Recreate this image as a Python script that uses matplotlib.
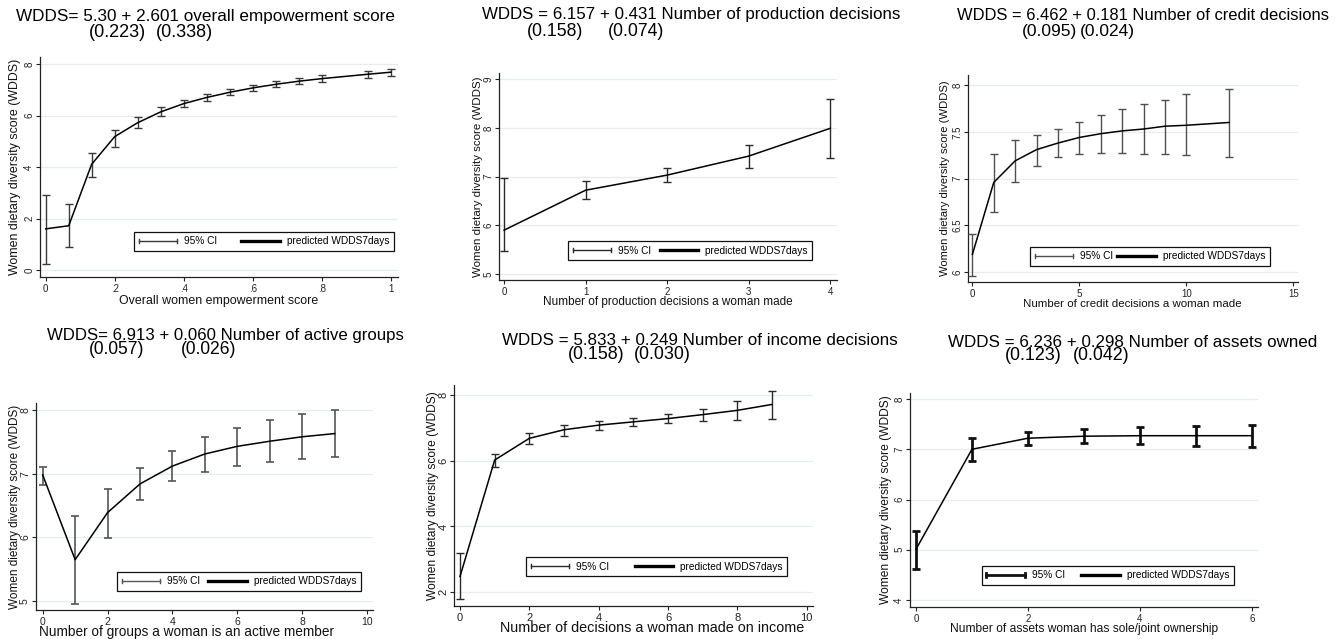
import matplotlib
matplotlib.use("Agg")
import matplotlib.pyplot as plt
from matplotlib.lines import Line2D
from matplotlib.legend_handler import HandlerBase
import numpy as np

plt.rcParams['font.family'] = ['Liberation Sans', 'DejaVu Sans']

W, H = 1343, 639

# ---------------- data ----------------
p1_x = [0, 0.0667, 0.1333, 0.2, 0.2667, 0.3333, 0.4, 0.4667, 0.5333, 0.6, 0.6667, 0.7333, 0.8, 0.9333, 1.0]
p1_y = [1.61, 1.73, 4.12, 5.19, 5.73, 6.15, 6.47, 6.71, 6.91, 7.08, 7.22, 7.34, 7.44, 7.61, 7.69]
p1_lo = [0.25, 0.92, 3.62, 4.79, 5.51, 5.99, 6.34, 6.59, 6.80, 6.96, 7.11, 7.24, 7.31, 7.46, 7.53]
p1_hi = [2.94, 2.56, 4.56, 5.45, 5.97, 6.33, 6.61, 6.83, 7.03, 7.18, 7.33, 7.46, 7.57, 7.75, 7.83]
p1_xticks = [0, 0.2, 0.4, 0.6, 0.8, 1.0]
p1_xticklabels = ["0", ".2", ".4", ".6", ".8", "1"]
p1_yticks = [0, 2, 4, 6, 8]
p1_yticklabels = ["0", "2", "4", "6", "8"]

p2_x = [0, 1, 2, 3, 4]
p2_y = [5.90, 6.72, 7.03, 7.42, 7.99]
p2_lo = [5.47, 6.53, 6.88, 7.18, 7.38]
p2_hi = [6.98, 6.91, 7.18, 7.64, 8.60]
p2_xticks = [0, 1, 2, 3, 4]
p2_xticklabels = ["0", "1", "2", "3", "4"]
p2_yticks = [5, 6, 7, 8, 9]
p2_yticklabels = ["5", "6", "7", "8", "9"]

p3_x = [0, 1, 2, 3, 4, 5, 6, 7, 8, 9, 10, 12]
p3_y = [6.19, 6.96, 7.19, 7.31, 7.38, 7.44, 7.48, 7.51, 7.53, 7.56, 7.57, 7.60]
p3_lo = [5.96, 6.64, 6.96, 7.14, 7.23, 7.26, 7.27, 7.27, 7.26, 7.26, 7.25, 7.23]
p3_hi = [6.41, 7.26, 7.41, 7.47, 7.53, 7.60, 7.68, 7.74, 7.80, 7.84, 7.90, 7.96]
p3_xticks = [0, 5, 10, 15]
p3_xticklabels = ["0", "5", "10", "15"]
p3_yticks = [6, 6.5, 7, 7.5, 8]
p3_yticklabels = ["6", "6.5", "7", "7.5", "8"]

p4_x = [0, 1, 2, 3, 4, 5, 6, 7, 8, 9]
p4_y = [6.98, 5.65, 6.39, 6.84, 7.12, 7.31, 7.43, 7.51, 7.58, 7.63]
p4_lo = [6.82, 4.95, 5.99, 6.58, 6.88, 7.03, 7.12, 7.18, 7.23, 7.26]
p4_hi = [7.11, 6.34, 6.76, 7.09, 7.36, 7.57, 7.72, 7.85, 7.94, 8.00]
p4_xticks = [0, 2, 4, 6, 8, 10]
p4_xticklabels = ["0", "2", "4", "6", "8", "10"]
p4_yticks = [5, 6, 7, 8]
p4_yticklabels = ["5", "6", "7", "8"]

p5_x = [0, 1, 2, 3, 4, 5, 6, 7, 8, 9]
p5_y = [2.48, 6.02, 6.68, 6.94, 7.08, 7.18, 7.28, 7.40, 7.53, 7.71]
p5_lo = [1.80, 5.82, 6.51, 6.76, 6.94, 7.06, 7.15, 7.21, 7.24, 7.26]
p5_hi = [3.18, 6.20, 6.84, 7.09, 7.21, 7.29, 7.41, 7.57, 7.81, 8.13]
p5_xticks = [0, 2, 4, 6, 8, 10]
p5_xticklabels = ["0", "2", "4", "6", "8", "10"]
p5_yticks = [2, 4, 6, 8]
p5_yticklabels = ["2", "4", "6", "8"]

p6_x = [0, 1, 2, 3, 4, 5, 6]
p6_y = [5.01, 7.00, 7.22, 7.26, 7.27, 7.27, 7.27]
p6_lo = [4.62, 6.77, 7.08, 7.12, 7.10, 7.07, 7.05]
p6_hi = [5.38, 7.23, 7.35, 7.40, 7.44, 7.46, 7.48]
p6_xticks = [0, 2, 4, 6]
p6_xticklabels = ["0", "2", "4", "6"]
p6_yticks = [4, 5, 6, 7, 8]
p6_yticklabels = ["4", "5", "6", "7", "8"]

titles = ["WDDS= 5.30 + 2.601 overall empowerment score",
          "WDDS = 6.157 + 0.431 Number of production decisions",
          "WDDS = 6.462 + 0.181 Number of credit decisions",
          "WDDS= 6.913 + 0.060 Number of active groups",
          "WDDS = 5.833 + 0.249 Number of income decisions",
          "WDDS = 6.236 + 0.298 Number of assets owned"]
titles_se_a = ["(0.223)", "(0.158)", "(0.095)", "(0.057)", "(0.158)", "(0.123)"]
titles_se_b = ["(0.338)", "(0.074)", "(0.024)", "(0.026)", "(0.030)", "(0.042)"]
xlabels = ["Overall women empowerment score",
           "Number of production decisions a woman made",
           "Number of credit decisions a woman made",
           "Number of groups a woman is an active member",
           "Number of decisions a woman made on income",
           "Number of assets woman has sole/joint ownership"]
ylabel = "Women dietary diversity score (WDDS)"
legend_labels = ["95% CI", "predicted WDDS7days"]

# ---------------- layout (pixels) ----------------
panels = [
    dict(x=p1_x, y=p1_y, lo=p1_lo, hi=p1_hi, xt=p1_xticks, xtl=p1_xticklabels, yt=p1_yticks, ytl=p1_yticklabels,
         box=(40, 57, 398, 277.3), xlim=(-0.0165, 1.021), ylim=(-0.27, 8.28),
         t1=(16, 20.5, 394), t2=(89, 213, 37),
         xl=(219, 300.7, 199), yl=(15, 216), leg=(134, 231.7, 394, 251),
         ecol='#3a3a3a', elw=1.0, tfs=7),
    dict(x=p2_x, y=p2_y, lo=p2_lo, hi=p2_hi, xt=p2_xticks, xtl=p2_xticklabels, yt=p2_yticks, ytl=p2_yticklabels,
         box=(499.3, 73.3, 836.7, 280), xlim=(-0.058, 4.08), ylim=(4.877, 9.12),
         t1=(482, 19.5, 898), t2=(527, 664, 36),
         xl=(667.5, 301.7, 248), yl=(478, 200), leg=(568.3, 241.7, 812.3, 260),
         ecol='#2a2a2a', elw=1.0, tfs=7),
    dict(x=p3_x, y=p3_y, lo=p3_lo, hi=p3_hi, xt=p3_xticks, xtl=p3_xticklabels, yt=p3_yticks, ytl=p3_yticklabels,
         box=(968.3, 75, 1298, 282), xlim=(-0.19, 15.22), ylim=(5.896, 8.107),
         t1=(957, 19.5, 1328), t2=(1022, 1135, 36),
         xl=(1132.5, 304, 218), yl=(945, 197), leg=(1030, 246.7, 1270, 266),
         ecol='#505050', elw=1.0, tfs=7),
    dict(x=p4_x, y=p4_y, lo=p4_lo, hi=p4_hi, xt=p4_xticks, xtl=p4_xticklabels, yt=p4_yticks, ytl=p4_yticklabels,
         box=(35.7, 403, 373, 610), xlim=(-0.216, 10.18), ylim=(4.86, 8.11),
         t1=(47, 340, 402), t2=(89, 236, 354),
         xl=(186.7, 632.3, 293), yl=(15, 205), leg=(117.3, 571.7, 360.7, 590.7),
         ecol='#555555', elw=1.2, tfs=7.5),
    dict(x=p5_x, y=p5_y, lo=p5_lo, hi=p5_hi, xt=p5_xticks, xtl=p5_xticklabels, yt=p5_yticks, ytl=p5_yticklabels,
         box=(454, 385, 813, 606), xlim=(-0.173, 10.18), ylim=(1.584, 8.30),
         t1=(502, 345, 897), t2=(568, 691, 359),
         xl=(651.7, 628, 303), yl=(433, 210), leg=(526, 557.3, 787.3, 576),
         ecol='#2a2a2a', elw=1.0, tfs=8),
    dict(x=p6_x, y=p6_y, lo=p6_lo, hi=p6_hi, xt=p6_xticks, xtl=p6_xticklabels, yt=p6_yticks, ytl=p6_yticklabels,
         box=(910, 393, 1258, 606.7), xlim=(-0.107, 6.11), ylim=(3.867, 8.12),
         t1=(948, 346.7, 1317), t2=(1005, 1130, 360.5),
         xl=(1083.8, 629.3, 269), yl=(886, 210), leg=(981.7, 566, 1234, 585),
         ecol='#111111', elw=2.0, tfs=7),
]

fig = plt.figure(figsize=(W / 100, H / 100), dpi=100)
fig.patch.set_facecolor('white')
renderer = fig.canvas.get_renderer()


def fx(px):
    return px / W


def fy(py):
    return 1 - py / H


def fit_width(t, target):
    bb = t.get_window_extent(renderer)
    t.set_fontsize(t.get_fontsize() * target / bb.width)


def fit_height(t, target):
    bb = t.get_window_extent(renderer)
    t.set_fontsize(t.get_fontsize() * target / bb.height)


class HandlerCI(HandlerBase):
    def __init__(self, color, lw):
        super().__init__()
        self.color = color
        self.lw = lw

    def create_artists(self, legend, orig_handle, xdescent, ydescent, width, height, fontsize, trans):
        y = height / 2 - ydescent
        x0 = -xdescent
        x1 = x0 + width
        h = height * 0.55
        return [Line2D([x0, x1], [y, y], color=self.color, lw=self.lw, transform=trans),
                Line2D([x0, x0], [y - h / 2, y + h / 2], color=self.color, lw=self.lw, transform=trans),
                Line2D([x1, x1], [y - h / 2, y + h / 2], color=self.color, lw=self.lw, transform=trans)]


for i, p in enumerate(panels):
    l, t, r, b = p['box']
    ax = fig.add_axes([fx(l), fy(b), (r - l) / W, (b - t) / H])
    x = np.array(p['x'])
    y = np.array(p['y'])
    lo = np.array(p['lo'])
    hi = np.array(p['hi'])
    ax.errorbar(x, y, yerr=[y - lo, hi - y], fmt='none', ecolor=p['ecol'],
                elinewidth=p['elw'], capsize=2.6, capthick=p['elw'], zorder=3)
    ax.plot(x, y, color='black', lw=1.1, zorder=4)
    ax.set_xlim(*p['xlim'])
    ax.set_ylim(*p['ylim'])
    ax.set_xticks(p['xt'])
    ax.set_xticklabels(p['xtl'])
    ax.set_yticks(p['yt'])
    ax.set_yticklabels(p['ytl'])
    ax.yaxis.grid(True, color='#e4eeee', lw=0.9)
    ax.set_axisbelow(True)
    for s in ['top', 'right']:
        ax.spines[s].set_visible(False)
    for s in ['left', 'bottom']:
        ax.spines[s].set_color('#222222')
        ax.spines[s].set_linewidth(0.9)
    ax.tick_params(axis='both', direction='out', length=2.6, width=0.8, color='#222222',
                   labelsize=p['tfs'], labelcolor='#222222')
    ax.tick_params(axis='x', pad=2.5)
    ax.tick_params(axis='y', pad=1.5, labelrotation=90)
    for lab in ax.get_yticklabels():
        lab.set_verticalalignment('center')

    # axis labels
    ax.set_xlabel(xlabels[i], fontsize=9, color='#111111')
    xlx, xly, xlw = p['xl']
    ax.xaxis.set_label_coords((xlx - l) / (r - l), (b - xly) / (b - t))
    ax.xaxis.label.set_verticalalignment('center')
    fit_width(ax.xaxis.label, xlw)

    ax.set_ylabel(ylabel, fontsize=9, color='#111111')
    ylx, ylh = p['yl']
    ax.yaxis.set_label_coords((ylx - l) / (r - l), 0.5)
    ax.yaxis.label.set_verticalalignment('center')
    fit_height(ax.yaxis.label, ylh)

    # legend
    ll, lt, lr, lb = p['leg']
    ci_handle = Line2D([], [])
    pred_handle = Line2D([], [], color='black', lw=2.4)
    leg = ax.legend([ci_handle, pred_handle], legend_labels,
                    handler_map={ci_handle: HandlerCI(p['ecol'], 2.0 if i == 5 else 1.0)},
                    loc='center', ncol=2, mode='expand',
                    bbox_to_anchor=(fx(ll), fy(lb), (lr - ll) / W, (lb - lt) / H),
                    bbox_transform=fig.transFigure, frameon=True, fancybox=False,
                    edgecolor='#111111', framealpha=1, fontsize=7.3,
                    handlelength=3.8, handletextpad=0.7, columnspacing=1.5,
                    borderpad=0.45, borderaxespad=0)
    leg.get_frame().set_linewidth(0.9)

    # titles
    x0, base1, x1 = p['t1']
    tt = fig.text(fx(x0), fy(base1), titles[i], fontsize=12, va='baseline', ha='left')
    fit_width(tt, x1 - x0)
    fs = tt.get_fontsize()
    xa, xb, base2 = p['t2']
    fig.text(fx(xa), fy(base2), titles_se_a[i], fontsize=fs * 1.05, va='baseline', ha='left')
    fig.text(fx(xb), fy(base2), titles_se_b[i], fontsize=fs * 1.05, va='baseline', ha='right')

fig.savefig('out.png', dpi=100, facecolor='white')
